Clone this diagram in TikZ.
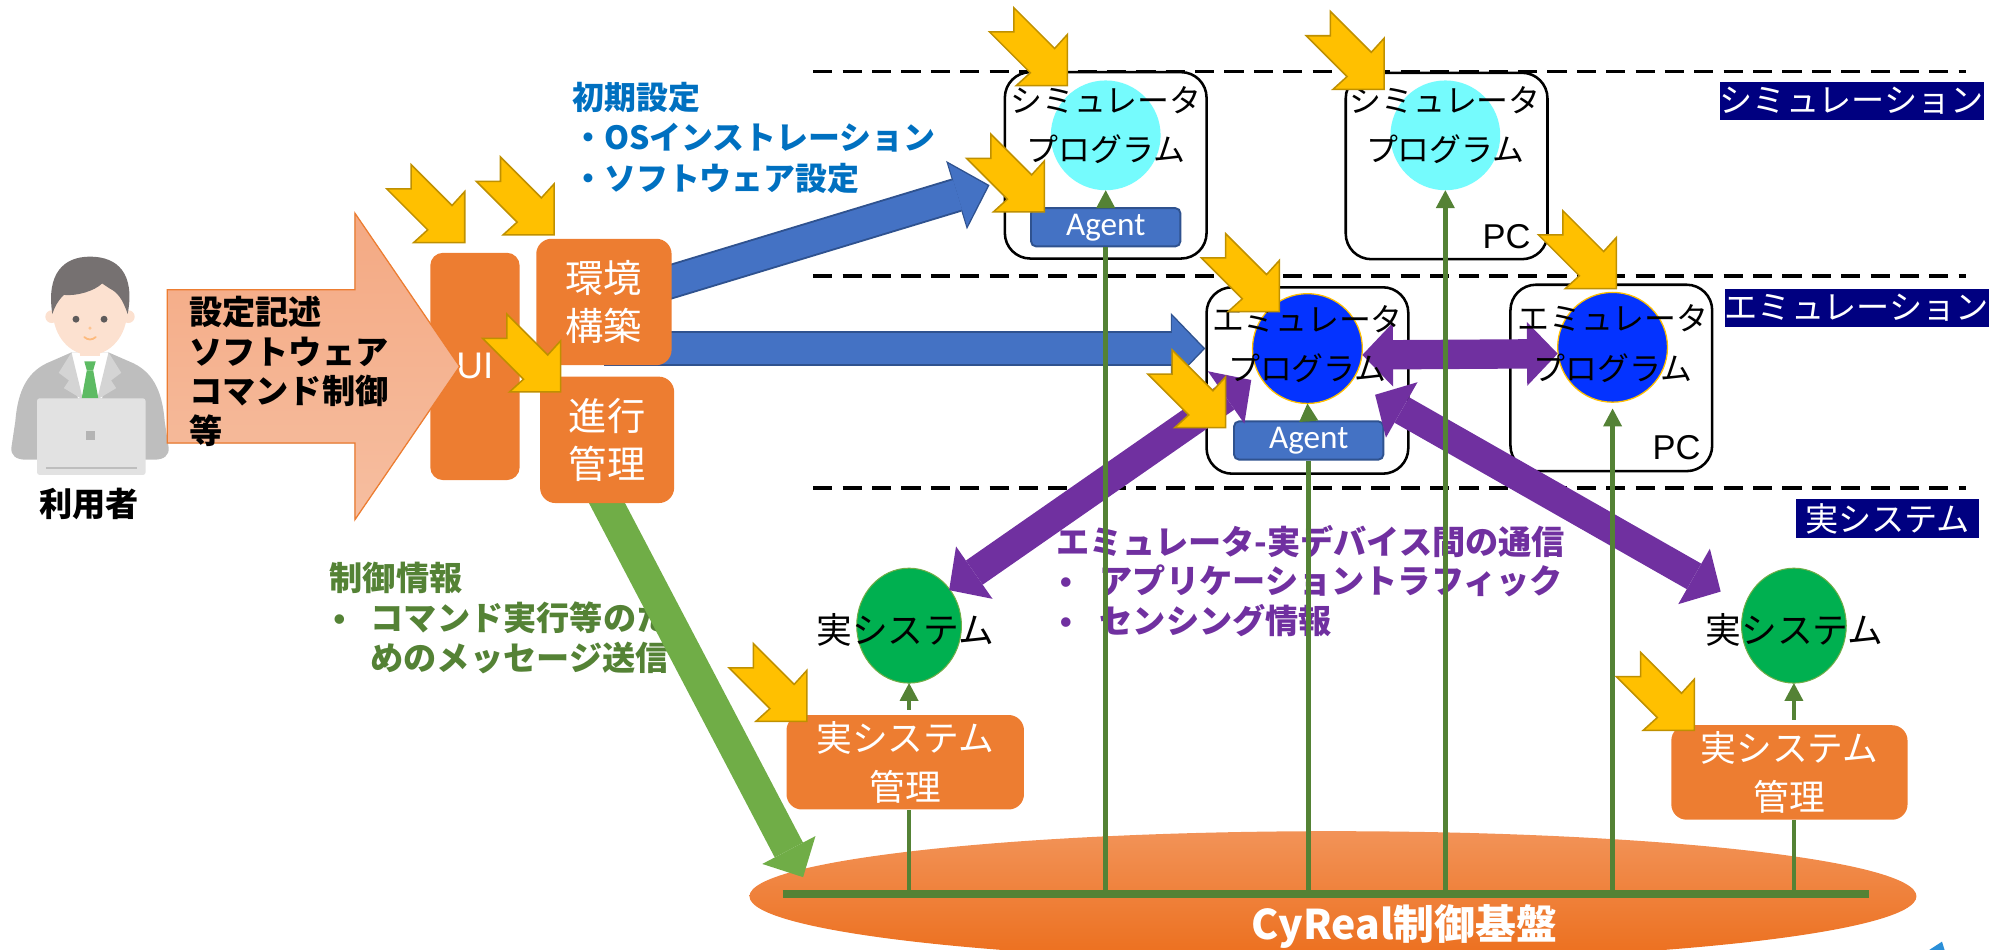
\documentclass[tikz,border=0pt]{standalone}
\usepackage{fontspec}
\setmainfont{Noto Sans CJK JP}
\newfontfamily\latinfont{Liberation Sans}
\newfontfamily\agentfont{Carlito}
\usetikzlibrary{arrows.meta,shapes.geometric}
\definecolor{boxorange}{HTML}{ED7D31}
\definecolor{salmontop}{HTML}{F4A983}
\definecolor{salmonbottom}{HTML}{F6BEA0}
\definecolor{pointeryellow}{HTML}{FFC000}
\definecolor{pointeredge}{HTML}{BF9000}
\definecolor{cfgblue}{HTML}{4472C4}
\definecolor{cfgedge}{HTML}{2F528F}
\definecolor{notesblue}{HTML}{0070C0}
\definecolor{linkpurple}{HTML}{7030A0}
\definecolor{ctrlgreen}{HTML}{70AD47}
\definecolor{busgreen}{HTML}{548235}
\definecolor{realgreen}{HTML}{00B050}
\definecolor{simcyan}{HTML}{75FBFD}
\definecolor{emublue}{HTML}{0433FF}
\definecolor{layernavy}{HTML}{000080}
\definecolor{basetop}{HTML}{F29358}
\definecolor{basebottom}{HTML}{EC6E1C}
\definecolor{suitgray}{HTML}{BEBEBE}
\definecolor{lapelgray}{HTML}{D4D4D4}
\definecolor{hairgray}{HTML}{767171}
\definecolor{skin}{HTML}{FCE1D0}
\definecolor{tiegreen}{HTML}{5DBB63}
\definecolor{laptopgray}{HTML}{E2E2E2}
\definecolor{logoblue}{HTML}{2A8FD8}
\pgfdeclarelayer{back}
\pgfsetlayers{back,main}

\begin{document}
\begin{tikzpicture}[
  x=1pt, y=-1pt,
  orangebox/.style={rectangle, rounded corners=12pt, fill=boxorange, text=white, align=center, inner sep=0pt},
  pcbox/.style={rectangle, rounded corners=20pt, draw=black, line width=2pt, fill=white, minimum width=158pt, minimum height=146pt},
  simprog/.style={circle, fill=simcyan, minimum size=86pt, inner sep=0pt, outer sep=0pt},
  emuprog/.style={circle, fill=emublue, draw=pointeryellow, line width=1pt, minimum size=86pt, inner sep=0pt, outer sep=0pt},
  progtext/.style={align=center, inner sep=0pt, font=\fontsize{25}{39}\selectfont},
  agentbox/.style={rectangle, rounded corners=4pt, fill=cfgblue, draw=cfgedge, line width=1.5pt, minimum width=117pt, minimum height=30pt, inner sep=0pt, text=white, font=\agentfont\fontsize{26}{30}\selectfont},
  pclabel/.style={anchor=south east, inner sep=0pt, font=\latinfont\fontsize{27}{30}\selectfont},
  realsys/.style={ellipse, fill=realgreen, draw=ctrlgreen, line width=0.8pt, minimum width=82pt, minimum height=90pt, inner sep=0pt, outer sep=0pt},
  realtext/.style={inner sep=0pt, font=\fontsize{28}{30}\selectfont},
  layerlabel/.style={anchor=north east, fill=layernavy, text=white, minimum height=30pt, inner sep=0pt, font=\fontsize{26}{30}\selectfont},
  layerline/.style={line width=3pt, dash pattern=on 15pt off 8pt},
  notetext/.style={anchor=west, align=left, inner sep=0pt, font=\bfseries\fontsize{26}{31}\selectfont},
  cfgarrowedge/.style={draw=cfgedge, line width=27pt, -{Triangle[length=27pt, width=56pt, line width=0pt]}},
  cfgarrow/.style={draw=cfgblue, line width=24pt, shorten >=1.6pt, -{Triangle[length=24.5pt, width=51pt, line width=0pt]}},
  ctrlarrow/.style={draw=ctrlgreen, line width=25pt, -{Triangle[length=24pt, width=47pt, line width=0pt]}},
  linkarrow/.style={draw=linkpurple, line width=23pt, {Triangle[length=24pt, width=50pt, line width=0pt]}-{Triangle[length=24pt, width=50pt, line width=0pt]}},
  busline/.style={draw=busgreen, line width=3.5pt},
  busfeed/.style={draw=busgreen, line width=3.5pt, -{Triangle[length=14pt, width=15pt, line width=0pt]}},
  pointer/.pic={\filldraw[fill=pointeryellow, draw=pointeredge, line width=1.2pt] (0,0) -- (0,-40) -- (-10,-29) -- (-42,-61) -- (-42,-42) -- (-61,-42) -- (-29,-10) -- (-40,0) -- cycle;}
]
  \useasboundingbox (0,0) rectangle (1568,744);

  % user at the laptop
  \fill[suitgray] (56,276) -- (40,283) .. controls (22,290) and (14,305) .. (12,330) -- (9,350) .. controls (8,357) and (13,360) .. (20,360) -- (121,360) .. controls (128,360) and (133,357) .. (132,350) -- (129,330) .. controls (127,305) and (119,290) .. (101,283) -- (85,276) -- cycle;
  \fill[white] (56,276) -- (85,276) -- (80,312) -- (61,312) -- cycle;
  \fill[lapelgray] (56,276) -- (46,292) -- (54,298) -- (50,304) -- (65,313) -- cycle;
  \fill[lapelgray] (85,276) -- (95,292) -- (87,298) -- (91,304) -- (76,313) -- cycle;
  \fill[tiegreen] (66,283) -- (75,283) -- (73,290) -- (68,290) -- cycle;
  \fill[tiegreen] (68,290) -- (73,290) -- (77,312) -- (64,312) -- cycle;
  \fill[skin] (63,266) rectangle (78,279);
  \fill[skin] (40.5,248) circle (5);
  \fill[skin] (100.5,248) circle (5);
  \fill[skin] (70.5,244) ellipse (29 and 34);
  \fill[hairgray] (41,246) .. controls (36,214) and (50,201) .. (70.5,201) .. controls (92,201) and (106,214) .. (100,246) .. controls (96,234) and (92,229) .. (86,226) -- (80,222) .. controls (74,228) and (60,232) .. (50,231) .. controls (45,236) and (43,240) .. (41,246) -- cycle;
  \fill[hairgray!80!black] (59.5,250) circle (2.7);
  \fill[hairgray!80!black] (81.5,250) circle (2.7);
  \fill[skin!70!orange] (70.5,257) circle (1.3);
  \draw[skin!60!orange, line width=1.4pt, line cap=round] (66,264) .. controls (69,266.5) and (72,266.5) .. (75,264);
  \fill[laptopgray, rounded corners=2pt] (29,312) rectangle (114,372);
  \fill[lapelgray!85!black] (67.5,337.5) rectangle (74.5,344.5);
  \draw[suitgray, line width=2pt] (36,366.5) -- (107,366.5);
  \node[inner sep=0pt, font=\bfseries\fontsize{26}{30}\selectfont] (user) at (70,395) {利用者};

  \node[orangebox, rounded corners=10pt, minimum width=70pt, minimum height=178pt, font=\latinfont\fontsize{29}{32}\selectfont] (ui) at (372,287) {UI};
  \filldraw[top color=salmontop, bottom color=salmonbottom, draw=boxorange, line width=1pt] (131,227) -- (278,227) -- (278,167) -- (360,287) -- (278,407) -- (278,347) -- (131,347) -- cycle;
  \node[notetext] (input) at (148,291) {設定記述\\ソフトウェア\\コマンド制御\\等};
  \node[orangebox, minimum width=106pt, minimum height=99pt, font=\fontsize{30}{37}\selectfont] (env) at (473,236.5) {環境\\構築};
  \node[orangebox, minimum width=105pt, minimum height=99pt, font=\fontsize{30}{37}\selectfont] (prog) at (475.5,344.5) {進行\\管理};

  \node[notetext, text=notesblue, font=\bfseries\fontsize{25}{31.5}\selectfont] (setupnote) at (448,108) {初期設定\\・OSインストレーション\\・ソフトウェア設定};

  \node[pcbox] (simbox1) at (866,129.5) {};
  \node[pcbox] (simbox2) at (1133,130) {};
  \node[pcbox] (emubox1) at (1024,298) {};
  \node[pcbox] (emubox2) at (1262,296) {};
  \node[simprog] (simprog1) at (866,106) {};
  \node[simprog] (simprog2) at (1132,106) {};
  \node[emuprog] (emuprog1) at (1024,273) {};
  \node[emuprog] (emuprog2) at (1263,272) {};
  \node[agentbox] (agent1) at (866,178) {Agent};
  \node[agentbox] (agent2) at (1025,345) {Agent};
  \node[pclabel] (pc1) at ([xshift=-14pt,yshift=9pt]simbox2.south east) {PC};
  \node[pclabel] (pc2) at ([xshift=-10pt,yshift=10pt]emubox2.south east) {PC};

  \node[realsys] (realsys1) at (712,490) {};
  \node[realsys] (realsys2) at (1405,490) {};
  \node[orangebox, minimum width=186pt, minimum height=74pt, font=\fontsize{28}{38}\selectfont] (mgmt1) at (709,597) {実システム\\管理};
  \node[orangebox, minimum width=185pt, minimum height=74pt, font=\fontsize{28}{38}\selectfont] (mgmt2) at (1401.5,605) {実システム\\管理};

  \draw[layerline] (637,56) -- (1540,56);
  \draw[layerline] (637,216) -- (1540,216);
  \draw[layerline] (637,382) -- (1540,382);

  \coordinate (simin) at (775,145);
  \coordinate (ctrltip) at (629,687);
  \coordinate (busL) at (613,700);
  \coordinate (busR) at (1464,700);

  % tails of these arrows go under the boxes
  \begin{pgfonlayer}{back}
    \node[ellipse, minimum width=914pt, minimum height=102pt, inner sep=0pt, top color=basetop, bottom color=basebottom] (base) at (1044,702) {};
    \node[notetext, text=busgreen] (ctrlnote) at (258,484) {制御情報\\\hspace*{3pt}{\latinfont •}\hspace{20pt}コマンド実行等のた\\\hspace*{32pt}めのメッセージ送信};
    \draw[ctrlarrow, shorten <=-12pt] (prog.south) -- (ctrltip);
    \draw[cfgarrowedge] (env.center) -- (simin);
    \draw[cfgarrow] (env.center) -- (simin);
    \draw[cfgarrowedge] (env.center |- emuprog1) -- (emubox1.west |- emuprog1);
    \draw[cfgarrow] (env.center |- emuprog1) -- (emubox1.west |- emuprog1);
  \end{pgfonlayer}

  \draw[linkarrow] ([yshift=-5pt]emuprog1.east) -- ([yshift=-5pt]emuprog2.west);
  \draw[linkarrow, shorten <=53.6pt, shorten >=38.2pt] ([yshift=6pt]emuprog1.center) -- ([yshift=6pt]realsys1.center);
  \draw[linkarrow, shorten <=61pt, shorten >=66pt] ([yshift=-6pt]emuprog1.center) -- ([yshift=-6pt]realsys2.center);

  \node[progtext] (simtext1) at (866,98) {シミュレータ\\プログラム};
  \node[progtext] (simtext2) at (1132,98) {シミュレータ\\プログラム};
  \node[progtext] (emutext1) at (1024,269.5) {エミュレータ\\プログラム};
  \node[progtext] (emutext2) at (1263,269) {エミュレータ\\プログラム};
  \node[realtext] (realtext1) at (709,493) {実システム};
  \node[realtext] (realtext2) at (1405.5,493) {実システム};

  \node[notetext, text=linkpurple] (linknote) at (827,455) {エミュレータ-実デバイス間の通信\\\hspace*{3pt}{\latinfont •}\hspace{22pt}アプリケーショントラフィック\\\hspace*{3pt}{\latinfont •}\hspace{22pt}センシング情報};

  \draw[busline] (agent1.south |- busL) -- (agent1.south);
  \draw[busfeed] (agent1.north) -- (simprog1.south);
  \draw[busline] (agent2.south |- busL) -- (agent2.south);
  \draw[busfeed] (agent2.north) -- (emuprog1.south);
  \draw[busfeed] (simprog2.south |- busL) -- (simprog2.south);
  \draw[busfeed, shorten >=5pt] (emuprog2.south |- busL) -- (emuprog2.south);
  \draw[busline] (realsys1.south |- busL) -- (realsys1.south |- mgmt1.south);
  \draw[busfeed, shorten <=4pt] (realsys1.south |- mgmt1.north) -- (realsys1.south);
  \draw[busline] (realsys2.south |- busL) -- (realsys2.south |- mgmt2.south);
  \draw[busfeed, shorten <=4pt] (realsys2.south |- mgmt2.north) -- (realsys2.south);
  \draw[busgreen, line width=6pt] (busL) -- (busR);

  \pic at (364,190) {pointer};
  \pic at (434,184) {pointer};
  \pic at (439,307) {pointer};
  \pic at (836,67) {pointer};
  \pic at (818,166) {pointer};
  \pic at (1084,70) {pointer};
  \pic at (1266,226) {pointer};
  \pic at (1002,244) {pointer};
  \pic at (960,335) {pointer};
  \pic at (632,565) {pointer};
  \pic at (1327,572) {pointer};

  \node[layerlabel, minimum width=204pt] (simlayer) at (1554,64) {シミュレーション};
  \node[layerlabel, minimum width=203pt] (emulayer) at (1558,226) {エミュレーション};
  \node[layerlabel, minimum width=143pt] (reallayer) at (1550,391) {実システム};

  \node[inner sep=0pt, text=white, font=\bfseries\fontsize{32}{36}\selectfont] (baselabel) at (1100,726) {CyReal制御基盤};
  \fill[logoblue] (1511,744) -- (1521,737.5) -- (1523,744) -- cycle;
\end{tikzpicture}
\end{document}
